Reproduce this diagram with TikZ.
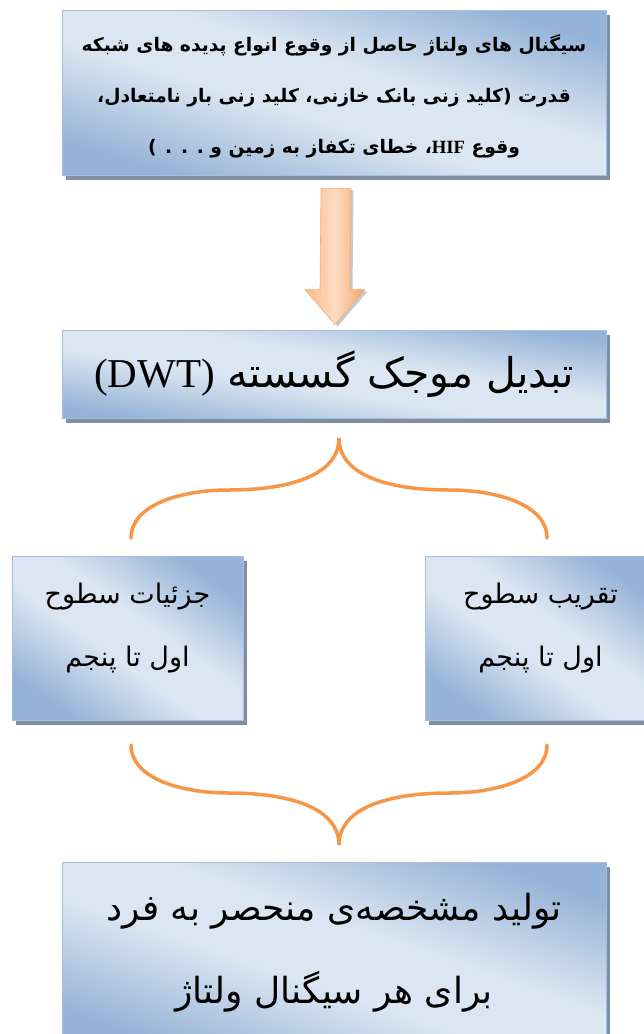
\documentclass[tikz,border=0pt]{standalone}
\usepackage{fontspec}
\newfontfamily\fa[Script=Arabic]{DejaVu Sans}
\newfontfamily\lat{Liberation Serif}
\TeXXeTstate=1
\usetikzlibrary{shadows,calc}

\definecolor{bluedark}{HTML}{95B3D7}
\definecolor{bluelight}{HTML}{DCE6F2}
\definecolor{boxedge}{HTML}{A7BFDE}
\definecolor{boxshadow}{HTML}{7F8EA3}
\definecolor{orangemid}{HTML}{F9B98A}
\definecolor{orangedark}{HTML}{F6A468}
\definecolor{orangelight}{HTML}{FCDCC3}
\definecolor{orangeedge}{HTML}{F6AC76}
\definecolor{bracec}{HTML}{F79646}

% dark corners, wide light band through the middle
\pgfdeclareverticalshading{panelshade}{100bp}{color(0bp)=(bluedark); color(25bp)=(bluedark);
  color(44bp)=(bluelight); color(56bp)=(bluelight); color(75bp)=(bluedark); color(100bp)=(bluedark)}

\tikzset{
  % #1: gradient angle, chosen so the light band follows the panel diagonal
  panel/.style={draw=boxedge, line width=0.8pt, inner sep=0pt,
    shading=panelshade, shading angle=#1,
    drop shadow={shadow xshift=4pt, shadow yshift=-5pt, fill=boxshadow, opacity=1}},
  rtltext/.style={align=center, text=black},
  brace/.style={draw=bracec, line width=3.5pt, line cap=round},
  blockarrow/.style={draw=orangeedge, line width=0.6pt,
    left color=orangemid, right color=orangedark, middle color=orangelight,
    drop shadow={shadow xshift=2.5pt, shadow yshift=-2pt, fill=gray!70, opacity=0.6}},
}

\begin{document}
\begin{tikzpicture}[x=1pt,y=-1pt]
\path[use as bounding box, fill=white] (0,0) rectangle (643,1034);

% boxes
\node[panel=-16.9, minimum width=544, minimum height=165] (b1) at (334,92.5) {};
\node[panel=-9.2, minimum width=544, minimum height=88] (b2) at (334,374) {};
\node[panel=-35.4, minimum width=231, minimum height=164] (b3l) at (127.5,638) {};
\node[panel=-35.4, minimum width=231, minimum height=164] (b3r) at (540.5,638) {};
\node[panel=-19.1, minimum width=544, minimum height=188] (b4) at (334,956) {};

% texts
\node[rtltext, font=\fa\bfseries\fontsize{18.7}{51}\selectfont] (t1) at ($(b1.center)+(0,4)$)
  {\beginR سیگنال های ولتاژ حاصل از وقوع انواع پدیده های شبکه\endR\\
   \beginR قدرت (کلید زنی بانک خازنی، کلید زنی بار نامتعادل،\endR\\
   \beginR وقوع \beginL{\lat\bfseries HIF}\endL، خطای تکفاز به زمین و . . . )\endR};
\node[rtltext, font=\fa\fontsize{41}{48}\selectfont] (t2) at (b2.center)
  {\beginR تبدیل موجک گسسته \beginL{\lat (DWT)}\endL\endR};
\node[rtltext, font=\fa\fontsize{27}{63}\selectfont] (t3l) at ($(b3l.center)+(0,-10)$)
  {\beginR جزئیات سطوح\endR\\ \beginR اول تا پنجم\endR};
\node[rtltext, font=\fa\fontsize{27}{63}\selectfont] (t3r) at ($(b3r.center)+(0,-10)$)
  {\beginR تقریب سطوح\endR\\ \beginR اول تا پنجم\endR};
\node[rtltext, font=\fa\fontsize{36}{83}\selectfont] (t4) at ($(b4.center)+(0,-3)$)
  {\beginR تولید مشخصه‌ی منحصر به فرد\endR\\ \beginR برای هر سیگنال ولتاژ\endR};

% block arrow from the first box to the transform box
\coordinate (a0) at ($(b1.south)+(2,13)$);
\coordinate (a1) at ($(b2.north)+(1,-5)$);
\path[blockarrow] ($(a0)+(-15,0)$) -- ($(a0)+(15,0)$) -- ($(a1)+(15,-35)$)
  -- ($(a1)+(30,-35)$) -- (a1) -- ($(a1)+(-30,-35)$) -- ($(a1)+(-15,-35)$) -- cycle;

% upper brace (splitting)
\coordinate (u0) at (131,538);
\coordinate (u1) at (339,438);
\coordinate (u2) at (547,538);
\draw[brace] (u0) .. controls (131,505) and (180,490) .. (229,490)
  .. controls (290,490) and (339,475) .. (u1)
  .. controls (339,475) and (388,490) .. (449,490)
  .. controls (498,490) and (547,505) .. (u2);

% lower brace (joining)
\coordinate (l0) at (131,745);
\coordinate (l1) at (339,845);
\coordinate (l2) at (547,745);
\draw[brace] (l0) .. controls (131,778) and (180,793) .. (229,793)
  .. controls (290,793) and (339,808) .. (l1)
  .. controls (339,808) and (388,793) .. (449,793)
  .. controls (498,793) and (547,778) .. (l2);
\end{tikzpicture}
\end{document}
